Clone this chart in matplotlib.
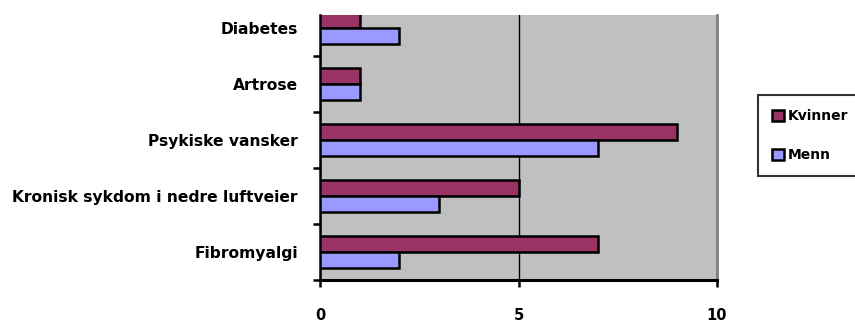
import matplotlib
matplotlib.use("Agg")
import matplotlib.pyplot as plt
import numpy as np

categories = ["Fibromyalgi", "Kronisk sykdom i nedre luftveier", "Psykiske vansker", "Artrose", "Diabetes"]
kvinner = [7, 5, 9, 1, 1]
menn = [2, 3, 7, 1, 2]
series_names = ["Kvinner", "Menn"]
xticks = [0, 5, 10]

plt.rcParams['font.family'] = ['DejaVu Sans']
fig = plt.figure(figsize=(8.55, 3.27), dpi=100)
ax = fig.add_axes([320/855, 1-280/327, (717-320)/855, (280-15)/327])
ax.set_facecolor("#C0C0C0")

y = np.arange(len(categories))
h = 0.285
bk = ax.barh(y + h/2, kvinner, height=h, color="#993366", edgecolor="black", linewidth=1.8, label=series_names[0], zorder=3)
bm = ax.barh(y - h/2, menn, height=h, color="#9999FF", edgecolor="black", linewidth=1.8, label=series_names[1], zorder=3)

ax.set_xlim(0, 10)
ax.set_ylim(-0.5, 4.23)
ax.set_xticks(xticks)
ax.set_xticklabels([str(t) for t in xticks], fontweight="bold", fontsize=10.5)
ax.tick_params(axis="x", length=5, width=1.8, pad=15, direction="out")
ax.set_yticks(np.arange(-0.5, 4.5, 1.0))
ax.set_yticklabels([])
ax.set_yticks(y, minor=True)
ax.set_yticklabels(categories, minor=True, fontweight="bold", fontsize=11.2)
ax.tick_params(axis="y", which="major", length=5, width=1.8, direction="out")
ax.tick_params(axis="y", which="minor", length=0, pad=16)

ax.xaxis.grid(True, color="black", linewidth=1)
ax.set_axisbelow(True)
ax.spines["top"].set_visible(False)
ax.spines["right"].set_color("#808080")
ax.spines["right"].set_linewidth(2)
ax.spines["left"].set_linewidth(1.8)
ax.spines["bottom"].set_linewidth(2.2)

leg = fig.legend(handles=[bk, bm], labels=series_names, loc="upper left",
                 bbox_to_anchor=(758/855, 1-95/327), frameon=True, fancybox=False,
                 edgecolor="black", prop={"weight": "bold", "size": 10},
                 handlelength=0.85, handleheight=0.85, handletextpad=0.3,
                 labelspacing=1.8, borderpad=1.0, borderaxespad=0)
leg.get_frame().set_linewidth(1.5)

fig.savefig("out.png", dpi=100)
